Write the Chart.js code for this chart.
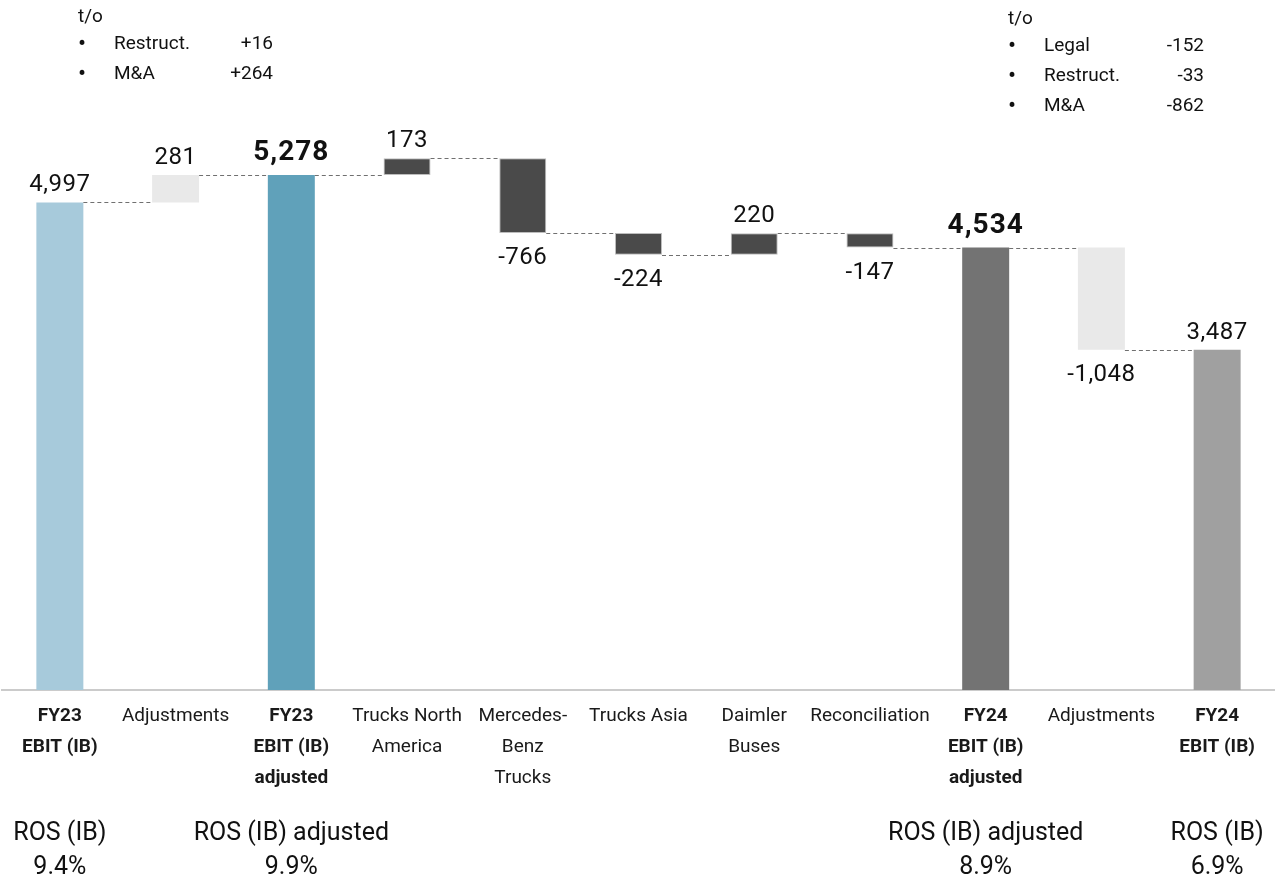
<!DOCTYPE html>
<html>
<head>
<meta charset="utf-8">
<script src="https://cdn.jsdelivr.net/npm/chart.js@4.4.1/dist/chart.umd.min.js"></script>
<style>
  html, body { margin: 0; padding: 0; background: #fff; }
  #wrap { position: relative; width: 1275px; height: 880px; }
  #chart { position: absolute; left: 0; top: 0; }
  .notes { position: absolute; font: 19px Roboto, sans-serif; color: #111; line-height: 30px; }
  .notes .row { display: flex; }
  .notes .b { width: 36px; font-size: 24px; line-height: 30px; }
  .notes .v { margin-left: auto; text-align: right; }
</style>
</head>
<body>
<div id="wrap">
  <canvas id="chart" width="1275" height="880"></canvas>
</div>
<script>
const categories = [
  ['FY23', 'EBIT (IB)'], 'Adjustments', ['FY23', 'EBIT (IB)', 'adjusted'],
  ['Trucks North', 'America'], ['Mercedes-', 'Benz', 'Trucks'], 'Trucks Asia',
  ['Daimler', 'Buses'], 'Reconciliation', ['FY24', 'EBIT (IB)', 'adjusted'],
  'Adjustments', ['FY24', 'EBIT (IB)']
];
const values = [4997, 281, 5278, 173, -766, -224, 220, -147, 4534, -1048, 3487];
const kinds  = ['total', 'adj', 'total', 'delta', 'delta', 'delta', 'delta', 'delta', 'total', 'adj', 'total'];
const barColors = ['#a7cadb', '#e9e9e9', '#60a1ba', '#4a4a4a', '#4a4a4a', '#4a4a4a',
                   '#4a4a4a', '#4a4a4a', '#737373', '#e9e9e9', '#a0a0a0'];
const boldIdx = [2, 8];

const rosIndex  = [0, 2, 8, 10];
const rosTitles = ['ROS (IB)', 'ROS (IB) adjusted', 'ROS (IB) adjusted', 'ROS (IB)'];
const rosValues = ['9.4%', '9.9%', '8.9%', '6.9%'];

const notesLeft  = [['Restruct.', '+16'], ['M&A', '+264']];
const notesRight = [['Legal', '-152'], ['Restruct.', '-33'], ['M&A', '-862']];

// floating ranges + running level after each bar
const ranges = [];
const levels = [];
let level = 0;
values.forEach((v, i) => {
  if (kinds[i] === 'total') {
    ranges.push([0, v]);
    level = v;
  } else {
    ranges.push([level, level + v]);
    level += v;
  }
  levels.push(level);
});

function addNotes(list, left, top, width) {
  const box = document.createElement('div');
  box.className = 'notes';
  box.style.left = left + 'px';
  box.style.top = top + 'px';
  box.style.width = width + 'px';
  let html = '<div style="line-height:24px">t/o</div>';
  list.forEach(([k, v]) => {
    html += `<div class="row"><span class="b">&bull;</span><span>${k}</span><span class="v">${v}</span></div>`;
  });
  box.innerHTML = html;
  document.getElementById('wrap').appendChild(box);
}
addNotes(notesLeft, 78, 4, 195);
addNotes(notesRight, 1008, 6, 196);

const fmt = v => v.toLocaleString('en-US');

const waterfallPlugin = {
  id: 'waterfall',
  afterDatasetsDraw(chart) {
    const { ctx, scales: { y } } = chart;
    const bars = chart.getDatasetMeta(0).data;
    ctx.save();

    // dashed connectors
    ctx.strokeStyle = '#707070';
    ctx.lineWidth = 1;
    ctx.setLineDash([4, 3]);
    for (let i = 0; i < bars.length - 1; i++) {
      const a = bars[i], b = bars[i + 1];
      const yy = Math.round(y.getPixelForValue(levels[i])) + 0.5;
      ctx.beginPath();
      ctx.moveTo(a.x + a.width / 2, yy);
      ctx.lineTo(b.x - b.width / 2, yy);
      ctx.stroke();
    }
    ctx.setLineDash([]);

    // value labels
    ctx.fillStyle = '#111';
    ctx.textAlign = 'center';
    values.forEach((v, i) => {
      const bold = boldIdx.includes(i);
      ctx.font = bold ? 'bold 28px Roboto' : '24px Roboto';
      ctx.letterSpacing = bold ? '1px' : '0.5px';
      const hi = Math.max(...ranges[i]), lo = Math.min(...ranges[i]);
      if (v >= 0) {
        ctx.textBaseline = 'alphabetic';
        ctx.fillText(fmt(v), bars[i].x, y.getPixelForValue(hi) - (bold ? 15 : 11));
      } else {
        ctx.textBaseline = 'top';
        ctx.fillText(fmt(v), bars[i].x, y.getPixelForValue(lo) + 13);
      }
    });
    ctx.restore();
  },
  afterDraw(chart) {
    const { ctx, scales: { x } } = chart;
    ctx.save();
    ctx.fillStyle = '#111';
    ctx.font = '25px Roboto';
    ctx.textAlign = 'center';
    ctx.textBaseline = 'middle';
    rosIndex.forEach((idx, k) => {
      let cx = x.getPixelForValue(idx);
      const w = ctx.measureText(rosTitles[k]).width;
      let vx = cx;
      if (cx + w / 2 > chart.width - 3) {
        cx = chart.width - 3 - w / 2;
        vx = (cx + vx) / 2;
      }
      ctx.fillText(rosTitles[k], cx, 834);
      ctx.fillText(rosValues[k], vx, 868);
    });
    ctx.restore();
  }
};

new Chart(document.getElementById('chart'), {
  type: 'bar',
  data: {
    labels: categories,
    datasets: [{
      data: ranges,
      backgroundColor: barColors,
      borderColor: kinds.map(k => k === 'delta' ? '#bdbdbd' : 'rgba(0,0,0,0)'),
      borderWidth: kinds.map(k => k === 'delta' ? 1 : 0),
      borderSkipped: false,
      barPercentage: 0.406,
      categoryPercentage: 1.0,
    }],
  },
  options: {
    responsive: false,
    animation: false,
    layout: { padding: { top: 7, left: 2, right: 0, bottom: 0 } },
    plugins: { legend: { display: false }, tooltip: { enabled: false } },
    scales: {
      x: {
        grid: { drawOnChartArea: false, drawTicks: false },
        border: { display: true, color: '#cbcbcb', width: 2 },
        ticks: {
          color: '#1a1a1a',
          padding: 11,
          maxRotation: 0,
          autoSkip: false,
          font: c => ({
            family: 'Roboto',
            size: 19,
            weight: kinds[c.index] === 'total' ? 'bold' : 'normal',
            lineHeight: 1.63,
          }),
        },
        afterFit: scale => { scale.height = 190; },
      },
      y: {
        display: false,
        min: 0,
        max: 7000,
      },
    },
  },
  plugins: [waterfallPlugin],
});
</script>
</body>
</html>
